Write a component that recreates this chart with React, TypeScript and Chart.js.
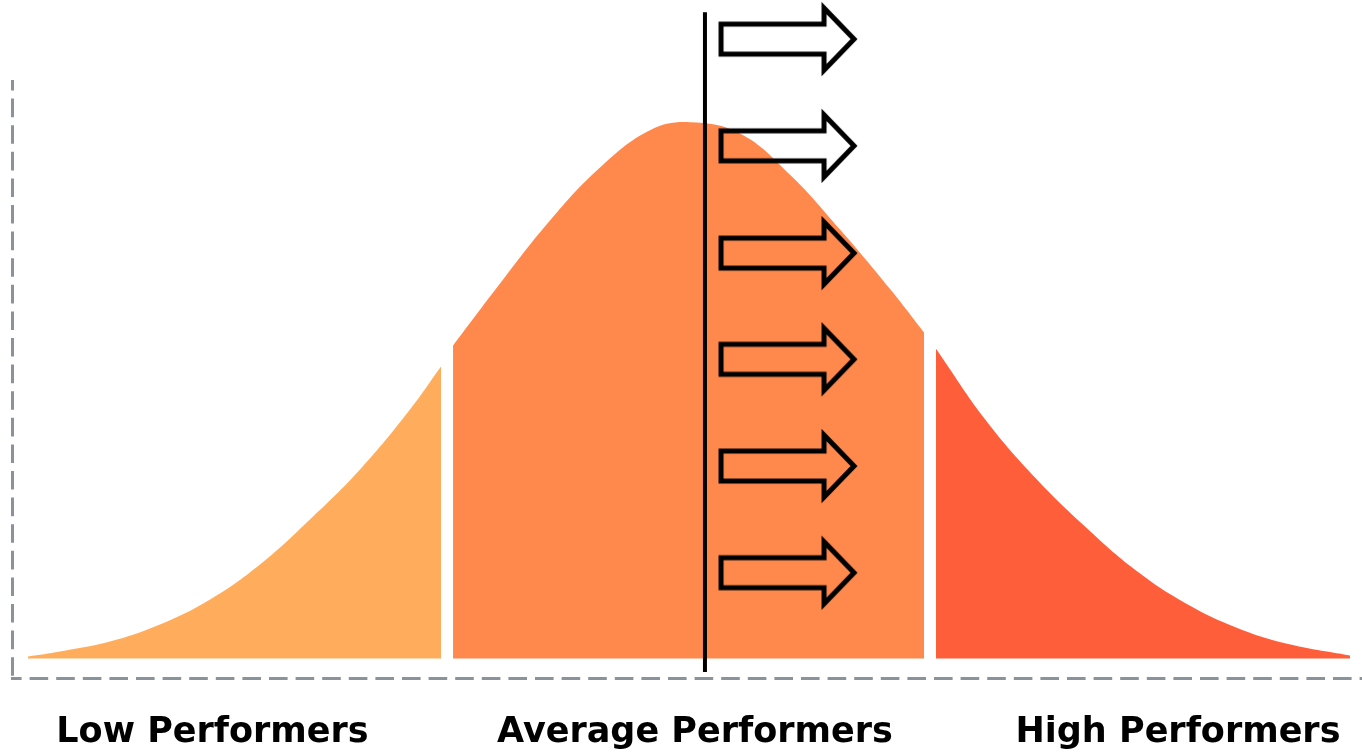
import React, { useEffect, useRef } from "react";
import { Chart, registerables } from "chart.js";

Chart.register(...registerables);

// Bottom category labels and where they sit on the performance axis (0–100)
const categories = ["Low Performers", "Average Performers", "High Performers"];
const categoryX = [14.85, 50.59, 86.37];

// Bell curve, split in three bands (x = performance, y = relative frequency, peak = 100)
const lowX = [1.19, 3.56, 7.26, 10.96, 14.67, 18.37, 22.07, 25.78, 29.48, 31.78];
const lowY = [0.37, 1.31, 3.17, 6.34, 11.0, 17.53, 25.92, 35.24, 46.43, 54.45];

const avgX = [32.67, 36.15, 39.85, 43.56, 47.26, 50.2, 53.93, 57.63, 61.33, 65.04, 67.56];
const avgY = [58.36, 69.92, 81.67, 91.55, 98.5, 100, 97.9, 90.2, 80.0, 68.9, 60.79];

const highX = [68.44, 72.15, 75.85, 79.56, 83.26, 86.96, 90.67, 94.37, 99.11];
const highY = [57.8, 44.38, 33.56, 24.43, 16.41, 10.26, 5.78, 2.8, 0.56];

// Vertical marker line
const markerX = 51.33;
const markerY = [120.5, -2.5];

// Arrows pushing right
const arrowX = 57.56;
const arrowY = [115.5, 95.6, 75.6, 55.8, 35.9, 16.0];

const COLORS = {
  low: "#FFAD5C",
  avg: "#FF884D",
  high: "#FF5E3A",
  axis: "#8A9399",
  ink: "#000000",
};

function makeArrow(): HTMLCanvasElement {
  const c = document.createElement("canvas");
  c.width = 146;
  c.height = 80;
  const ctx = c.getContext("2d")!;
  const cx = 73;
  const cy = 40;
  ctx.lineWidth = 5;
  ctx.strokeStyle = COLORS.ink;
  ctx.lineJoin = "miter";
  ctx.beginPath();
  ctx.moveTo(cx - 68, cy - 15);
  ctx.lineTo(cx + 35, cy - 15);
  ctx.lineTo(cx + 35, cy - 31);
  ctx.lineTo(cx + 65, cy);
  ctx.lineTo(cx + 35, cy + 31);
  ctx.lineTo(cx + 35, cy + 15);
  ctx.lineTo(cx - 68, cy + 15);
  ctx.closePath();
  ctx.stroke();
  return c;
}

// Dashed axis lines (Chart.js borders are always solid)
const dashedAxes = {
  id: "dashedAxes",
  beforeDatasetsDraw(chart: any) {
    const { ctx, chartArea } = chart;
    const { left, right, top, bottom } = chartArea;
    const lx = left + 0.5;
    const by = bottom - 1.5;
    ctx.save();
    ctx.strokeStyle = COLORS.axis;
    ctx.lineWidth = 3;
    ctx.setLineDash([18.6, 8]);
    ctx.lineDashOffset = 8;
    ctx.beginPath();
    ctx.moveTo(lx, top - 2);
    ctx.lineTo(lx, by);
    ctx.stroke();
    ctx.beginPath();
    ctx.moveTo(lx - 1.5, by);
    ctx.lineTo(right, by);
    ctx.stroke();
    ctx.restore();
  },
};

const zip = (xs: number[], ys: number[]) => xs.map((x, i) => ({ x, y: ys[i] }));

export default function App() {
  const ref = useRef<HTMLCanvasElement | null>(null);

  useEffect(() => {
    if (!ref.current) return;
    const arrowImg = makeArrow();
    const band = (xs: number[], ys: number[], color: string) => ({
      type: "line" as const,
      data: zip(xs, ys),
      backgroundColor: color,
      borderColor: "rgba(0,0,0,0)",
      borderWidth: 0,
      pointRadius: 0,
      fill: "origin",
      tension: 0.4,
      order: 3,
    });

    const chart = new Chart(ref.current, {
      type: "line",
      data: {
        datasets: [
          {
            type: "line",
            data: arrowY.map((y) => ({ x: arrowX, y })),
            showLine: false,
            pointStyle: arrowImg as any,
            pointRadius: 60,
            pointHoverRadius: 60,
            clip: false as any,
            order: 0,
          } as any,
          {
            type: "line",
            data: markerY.map((y) => ({ x: markerX, y })),
            borderColor: COLORS.ink,
            borderWidth: 4,
            pointRadius: 0,
            fill: false,
            clip: false as any,
            order: 1,
          } as any,
          band(lowX, lowY, COLORS.low) as any,
          band(avgX, avgY, COLORS.avg) as any,
          band(highX, highY, COLORS.high) as any,
        ],
      },
      plugins: [dashedAxes],
      options: {
        responsive: false,
        animation: false,
        events: [],
        layout: { autoPadding: false, padding: { left: 12, right: 0, top: 82, bottom: 0 } },
        plugins: {
          legend: { display: false },
          tooltip: { enabled: false },
        },
        scales: {
          x: {
            type: "linear",
            min: 0,
            max: 100,
            grid: { display: false, drawTicks: false },
            border: { display: false },
            afterBuildTicks: (scale: any) => {
              scale.ticks = categoryX.map((v) => ({ value: v }));
            },
            afterFit: (scale: any) => {
              scale.height = 72;
              scale.paddingLeft = 0;
              scale.paddingRight = 0;
            },
            ticks: {
              autoSkip: false,
              maxRotation: 0,
              padding: 32,
              color: COLORS.ink,
              font: { family: "DejaVu Sans", size: 35, weight: "bold" as any },
              callback: (_v: any, i: number) => categories[i],
            },
          },
          y: {
            type: "linear",
            min: -4,
            max: 107.5,
            grid: { display: false, drawTicks: false },
            ticks: { display: false },
            border: { display: false },
            afterFit: (scale: any) => {
              scale.width = 0;
              scale.paddingTop = 0;
              scale.paddingBottom = 0;
            },
          },
        },
      } as any,
    });
    return () => chart.destroy();
  }, []);

  return (
    <div style={{ position: "fixed", left: 0, top: 0, width: 1362, height: 752, background: "#fff" }}>
      <canvas ref={ref} width={1362} height={752} style={{ display: "block" }} />
    </div>
  );
}
